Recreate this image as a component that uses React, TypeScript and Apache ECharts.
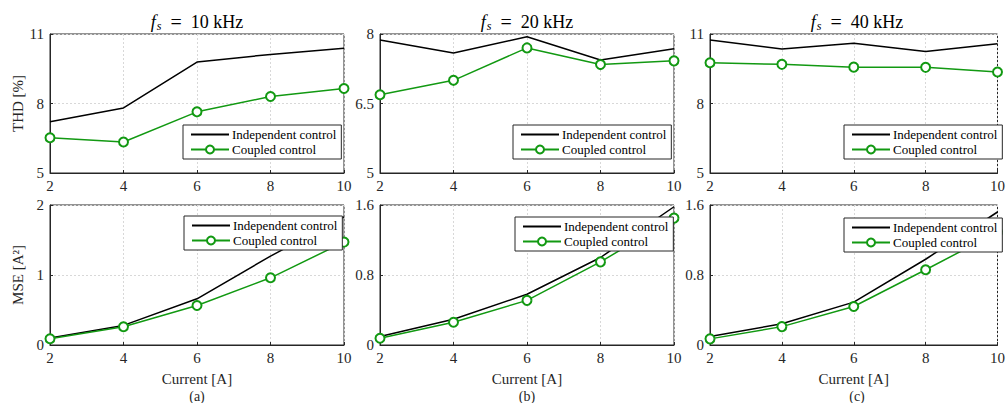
import React, { useEffect, useRef } from "react";
import * as echarts from "echarts";

const currents = [2, 4, 6, 8, 10];

const thdIndep10 = [7.21, 7.81, 9.79, 10.12, 10.38];
const thdCoupled10 = [6.52, 6.34, 7.64, 8.3, 8.65];
const thdIndep20 = [7.87, 7.59, 7.94, 7.44, 7.68];
const thdCoupled20 = [6.69, 7.0, 7.7, 7.34, 7.42];
const thdIndep40 = [10.74, 10.35, 10.6, 10.24, 10.58];
const thdCoupled40 = [9.76, 9.69, 9.57, 9.56, 9.36];

const mseIndep10 = [0.1, 0.28, 0.66, 1.27, 1.83];
const mseCoupled10 = [0.09, 0.26, 0.565, 0.96, 1.47];
const mseIndep20 = [0.096, 0.295, 0.58, 1.0, 1.58];
const mseCoupled20 = [0.077, 0.26, 0.51, 0.95, 1.45];
const mseIndep40 = [0.096, 0.243, 0.49, 0.98, 1.52];
const mseCoupled40 = [0.07, 0.21, 0.44, 0.86, 1.29];

const titles = ["10", "20", "40"];
const subLabels = ["(a)", "(b)", "(c)"];
const thdAxes = [
  { min: 5, max: 11, interval: 3 },
  { min: 5, max: 8, interval: 1.5 },
  { min: 5, max: 11, interval: 3 },
];
const mseAxes = [
  { min: 0, max: 2, interval: 1 },
  { min: 0, max: 1.6, interval: 0.8 },
  { min: 0, max: 1.6, interval: 0.8 },
];
const thdData = [
  [thdIndep10, thdCoupled10],
  [thdIndep20, thdCoupled20],
  [thdIndep40, thdCoupled40],
];
const mseData = [
  [mseIndep10, mseCoupled10],
  [mseIndep20, mseCoupled20],
  [mseIndep40, mseCoupled40],
];
const seriesNames = ["Independent control", "Coupled control"];

const FONT = "'Liberation Serif', 'Times New Roman', 'DejaVu Serif', serif";
const TXT = "#262626";
const GREEN = "#129912";

export default function App() {
  const ref = useRef<HTMLDivElement>(null);
  useEffect(() => {
    if (!ref.current) return;
    const chart = echarts.init(ref.current, null, { renderer: "svg" });
    const colLeft = [50, 380, 710];
    const colW = 294;
    const rows = [
      { top: 34, height: 139 },
      { top: 205, height: 140 },
    ];
    const grid: any[] = [];
    const xAxis: any[] = [];
    const yAxis: any[] = [];
    const series: any[] = [];
    const legend: any[] = [];
    const graphic: any[] = [];
    const legendPos = [
      [
        { left: 183, top: 125 },
        { left: 513, top: 125 },
        { left: 844, top: 125 },
      ],
      [
        { left: 184, top: 216 },
        { left: 515, top: 217 },
        { left: 844, top: 218 },
      ],
    ];
    let gi = 0;
    for (let r = 0; r < 2; r++) {
      for (let c = 0; c < 3; c++) {
        grid.push({
          left: colLeft[c],
          top: rows[r].top,
          width: colW,
          height: rows[r].height,
          show: true,
          borderColor: TXT,
          borderWidth: 1,
          backgroundColor: "#fff",
          containLabel: false,
        });
        xAxis.push({
          type: "value",
          gridIndex: gi,
          min: 2,
          max: 10,
          interval: 2,
          axisLine: { show: true, lineStyle: { color: TXT, width: 1 } },
          axisTick: { show: true, inside: true, length: 3, lineStyle: { color: TXT } },
          axisLabel: { color: TXT, fontFamily: FONT, fontSize: 15, margin: 5 },
          splitLine: { show: true, lineStyle: { color: "#d8d8d8", type: [2, 2], width: 1 } },
          name: r === 1 ? "Current [A]" : "",
          nameLocation: "middle",
          nameGap: 26,
          nameTextStyle: { color: TXT, fontFamily: FONT, fontSize: 15 },
        });
        const ax = r === 0 ? thdAxes[c] : mseAxes[c];
        yAxis.push({
          type: "value",
          gridIndex: gi,
          min: ax.min,
          max: ax.max,
          interval: ax.interval,
          axisLine: { show: true, lineStyle: { color: TXT, width: 1 } },
          axisTick: { show: true, inside: true, length: 3, lineStyle: { color: TXT } },
          axisLabel: { color: TXT, fontFamily: FONT, fontSize: 15, margin: 6 },
          splitLine: { show: true, lineStyle: { color: "#d8d8d8", type: [2, 2], width: 1 } },
          name: c === 0 ? (r === 0 ? "THD [%]" : "MSE [A²]") : "",
          nameLocation: "middle",
          nameRotate: 90,
          nameGap: 25,
          nameTextStyle: { color: TXT, fontFamily: FONT, fontSize: 15 },
        });
        const data = r === 0 ? thdData[c] : mseData[c];
        series.push({
          type: "line",
          name: seriesNames[0],
          xAxisIndex: gi,
          yAxisIndex: gi,
          data: currents.map((x, i) => [x, data[0][i]]),
          showSymbol: false,
          symbol: "none",
          lineStyle: { color: "#000", width: 1.5 },
          itemStyle: { color: "#000" },
          z: 3,
        });
        series.push({
          type: "line",
          name: seriesNames[1],
          xAxisIndex: gi,
          yAxisIndex: gi,
          data: currents.map((x, i) => [x, data[1][i]]),
          symbol: "emptyCircle",
          symbolSize: 9,
          lineStyle: { color: GREEN, width: 1.5 },
          itemStyle: { color: GREEN, borderColor: GREEN, borderWidth: 1.5 },
          z: 4,
        });
        legend.push({
          data: [
            { name: seriesNames[0], itemStyle: { opacity: 0 } },
            { name: seriesNames[1] },
          ],
          orient: "vertical",
          left: legendPos[r][c].left,
          top: legendPos[r][c].top,
          itemGap: 2,
          itemWidth: 38,
          itemHeight: 10,
          padding: [3, 5, 3, 7],
          borderColor: TXT,
          borderWidth: 1,
          backgroundColor: "#fff",
          textStyle: { color: "#000", fontFamily: FONT, fontSize: 13, padding: [0, 0, 0, -2] },
          selectedMode: false,
          z: 10,
        });
        gi++;
      }
    }
    for (let c = 0; c < 3; c++) {
      const cx = colLeft[c] + colW / 2;
      graphic.push({
        type: "text",
        x: cx,
        y: 22,
        style: {
          text: `{i|f}{s|s}{eq|=}{n|10 kHz}`.replace("10", titles[c]),
          textAlign: "center",
          textVerticalAlign: "middle",
          verticalAlign: "middle",
          align: "center",
          fill: "#000",
          rich: {
            i: { fontFamily: FONT, fontStyle: "italic", fontSize: 18, fill: "#000", color: "#000" },
            s: { fontFamily: FONT, fontStyle: "italic", fontSize: 12, fill: "#000", color: "#000", padding: [8, 0, 0, 1] },
            eq: { fontFamily: FONT, fontSize: 20, fill: "#000", color: "#000", padding: [0, 9, 0, 9] },
            n: { fontFamily: FONT, fontSize: 18, fill: "#000", color: "#000" },
          },
        },
      });
      graphic.push({
        type: "text",
        x: cx,
        y: 396,
        style: {
          text: subLabels[c],
          textAlign: "center",
          textVerticalAlign: "middle",
          align: "center",
          verticalAlign: "middle",
          fill: TXT,
          fontSize: 14,
          fontFamily: FONT,
        },
      });
    }
    chart.setOption({
      animation: false,
      backgroundColor: "#fff",
      grid,
      xAxis,
      yAxis,
      series,
      legend,
      graphic,
    });
    return () => chart.dispose();
  }, []);
  return (
    <div
      ref={ref}
      style={{ position: "fixed", left: 0, top: 0, width: 1008, height: 403 }}
    />
  );
}
